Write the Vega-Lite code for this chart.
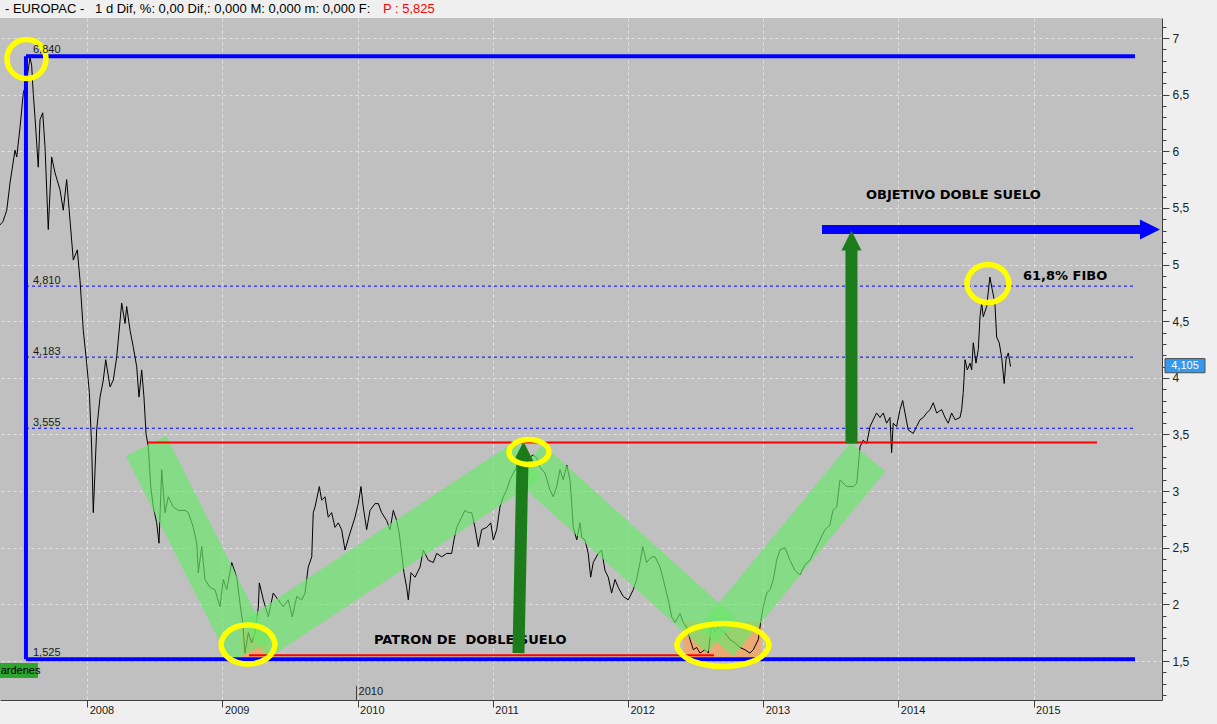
{
"$schema": "https://vega.github.io/schema/vega-lite/v6.json",
"width": 1162, "height": 682,
"autosize": {"type": "none"},
"padding": {"left": 0, "top": 18, "right": 55, "bottom": 24},
"background": "#efefef",
"config": {"view": {"fill": "#c0c0c0", "stroke": null}, "font": "Liberation Sans"},
"encoding": {
  "x": {"field": "t", "type": "quantitative", "title": null,
    "scale": {"domain": [2007.355, 2015.95], "nice": false, "zero": false},
    "axis": {"values": [2008, 2009, 2010, 2011, 2012, 2013, 2014, 2015], "format": "d", "labelAlign": "left", "labelBaseline": "middle", "labelPadding": 3, "labelOffset": 2, "tickSize": 7, "tickColor": "#404040", "domainColor": "#404040", "labelColor": "#202020", "labelFontSize": 11, "labelFlush": false, "labelOverlap": false, "grid": true, "gridColor": "#e2e2e2", "gridDash": [3, 3]}},
  "y": {"field": "p", "type": "quantitative", "title": null,
    "scale": {"domain": [1.156, 7.177], "nice": false, "zero": false},
    "axis": {"orient": "right", "values": [1.2,1.3,1.4,1.5,1.6,1.7,1.8,1.9,2.0,2.1,2.2,2.3,2.4,2.5,2.6,2.7,2.8,2.9,3.0,3.1,3.2,3.3,3.4,3.5,3.6,3.7,3.8,3.9,4.0,4.1,4.2,4.3,4.4,4.5,4.6,4.7,4.8,4.9,5.0,5.1,5.2,5.3,5.4,5.5,5.6,5.7,5.8,5.9,6.0,6.1,6.2,6.3,6.4,6.5,6.6,6.7,6.8,6.9,7.0,7.1],
      "labelExpr": "abs(datum.value*2-round(datum.value*2))<0.01 ? replace(format(datum.value,'~g'),'.',',') : ''",
      "tickSize": {"condition": {"test": "abs(datum.value*2-round(datum.value*2))<0.01", "value": 7}, "value": 4},
      "gridOpacity": {"condition": {"test": "abs(datum.value*2-round(datum.value*2))<0.01", "value": 1}, "value": 0},
      "gridColor": "#e2e2e2", "gridDash": [3, 3], "grid": true,
      "labelPadding": 3, "labelFontSize": 12, "labelColor": "#202020", "tickColor": "#404040", "domainColor": "#404040", "labelOverlap": false, "labelFlush": false}}
},
"layer": [
  {"data": {"values": [{"t": 2007.547, "p": 4.81, "t2": 2015.735}, {"t": 2007.547, "p": 4.183, "t2": 2015.735}, {"t": 2007.547, "p": 3.555, "t2": 2015.735}]},
   "mark": {"type": "rule", "color": "#0000ff", "strokeWidth": 1, "strokeDash": [3, 3]},
   "encoding": {"x2": {"field": "t2"}}},
  {"data": {"values": [{"t": 2009.145, "t2": 2009.337, "p": 1.535, "p2": 1.774}, {"t": 2012.407, "t2": 2012.984, "p": 1.535, "p2": 1.845}]},
   "mark": {"type": "rect", "color": "#f2a66c", "opacity": 0.9},
   "encoding": {"x2": {"field": "t2"}, "y2": {"field": "p2"}}},
  {"data": {"values": [
{"t":2007.355,"p":5.35},{"t":2007.377,"p":5.38},{"t":2007.405,"p":5.48},{"t":2007.429,"p":5.72},{"t":2007.466,"p":6.01},{"t":2007.479,"p":5.95},{"t":2007.503,"p":6.21},{"t":2007.527,"p":6.51},{"t":2007.553,"p":6.63},{"t":2007.577,"p":6.83},{"t":2007.589,"p":6.76},{"t":2007.601,"p":6.51},{"t":2007.614,"p":6.30},{"t":2007.638,"p":5.86},{"t":2007.651,"p":6.28},{"t":2007.671,"p":6.34},{"t":2007.688,"p":6.04},{"t":2007.712,"p":5.31},{"t":2007.737,"p":5.95},{"t":2007.762,"p":5.81},{"t":2007.799,"p":5.66},{"t":2007.823,"p":5.48},{"t":2007.848,"p":5.75},{"t":2007.873,"p":5.39},{"t":2007.897,"p":5.04},{"t":2007.927,"p":5.13},{"t":2007.947,"p":4.86},{"t":2007.971,"p":4.42},{"t":2007.996,"p":4.13},{"t":2008.016,"p":3.87},{"t":2008.033,"p":3.39},{"t":2008.045,"p":2.81},{"t":2008.070,"p":3.54},{"t":2008.095,"p":3.83},{"t":2008.119,"p":3.98},{"t":2008.137,"p":4.16},{"t":2008.169,"p":3.92},{"t":2008.193,"p":3.98},{"t":2008.218,"p":4.18},{"t":2008.255,"p":4.66},{"t":2008.280,"p":4.48},{"t":2008.292,"p":4.63},{"t":2008.317,"p":4.42},{"t":2008.341,"p":4.27},{"t":2008.366,"p":4.10},{"t":2008.383,"p":3.83},{"t":2008.403,"p":4.07},{"t":2008.420,"p":3.83},{"t":2008.435,"p":3.51},{"t":2008.452,"p":3.39},{"t":2008.470,"p":3.04},{"t":2008.489,"p":2.86},{"t":2008.514,"p":2.72},{"t":2008.531,"p":2.54},{"t":2008.551,"p":3.19},{"t":2008.575,"p":2.81},{"t":2008.600,"p":2.95},{"t":2008.637,"p":2.86},{"t":2008.674,"p":2.83},{"t":2008.723,"p":2.83},{"t":2008.748,"p":2.81},{"t":2008.785,"p":2.68},{"t":2008.810,"p":2.54},{"t":2008.822,"p":2.28},{"t":2008.847,"p":2.51},{"t":2008.871,"p":2.22},{"t":2008.908,"p":2.15},{"t":2008.945,"p":2.13},{"t":2008.982,"p":1.98},{"t":2009.007,"p":2.22},{"t":2009.032,"p":2.13},{"t":2009.069,"p":2.37},{"t":2009.106,"p":2.24},{"t":2009.130,"p":2.01},{"t":2009.150,"p":1.84},{"t":2009.167,"p":1.57},{"t":2009.192,"p":1.75},{"t":2009.217,"p":1.66},{"t":2009.241,"p":1.75},{"t":2009.266,"p":1.98},{"t":2009.273,"p":2.19},{"t":2009.303,"p":2.04},{"t":2009.340,"p":1.89},{"t":2009.376,"p":2.10},{"t":2009.413,"p":2.04},{"t":2009.450,"p":1.98},{"t":2009.487,"p":2.04},{"t":2009.517,"p":1.89},{"t":2009.550,"p":2.07},{"t":2009.587,"p":2.04},{"t":2009.611,"p":2.10},{"t":2009.635,"p":2.33},{"t":2009.661,"p":2.42},{"t":2009.672,"p":2.81},{"t":2009.685,"p":2.86},{"t":2009.717,"p":3.04},{"t":2009.734,"p":2.92},{"t":2009.759,"p":2.95},{"t":2009.783,"p":2.77},{"t":2009.808,"p":2.81},{"t":2009.833,"p":2.68},{"t":2009.857,"p":2.72},{"t":2009.882,"p":2.66},{"t":2009.907,"p":2.48},{"t":2009.944,"p":2.63},{"t":2009.981,"p":2.77},{"t":2010.005,"p":2.89},{"t":2010.025,"p":3.04},{"t":2010.042,"p":2.86},{"t":2010.067,"p":2.66},{"t":2010.092,"p":2.83},{"t":2010.129,"p":2.89},{"t":2010.153,"p":2.89},{"t":2010.178,"p":2.81},{"t":2010.215,"p":2.74},{"t":2010.240,"p":2.66},{"t":2010.264,"p":2.83},{"t":2010.289,"p":2.74},{"t":2010.308,"p":2.63},{"t":2010.326,"p":2.45},{"t":2010.343,"p":2.28},{"t":2010.363,"p":2.15},{"t":2010.375,"p":2.04},{"t":2010.395,"p":2.28},{"t":2010.425,"p":2.24},{"t":2010.462,"p":2.33},{"t":2010.486,"p":2.48},{"t":2010.523,"p":2.39},{"t":2010.560,"p":2.37},{"t":2010.585,"p":2.45},{"t":2010.622,"p":2.42},{"t":2010.659,"p":2.45},{"t":2010.696,"p":2.45},{"t":2010.713,"p":2.57},{"t":2010.733,"p":2.68},{"t":2010.770,"p":2.77},{"t":2010.794,"p":2.83},{"t":2010.819,"p":2.81},{"t":2010.844,"p":2.81},{"t":2010.868,"p":2.68},{"t":2010.893,"p":2.51},{"t":2010.918,"p":2.66},{"t":2010.955,"p":2.68},{"t":2010.985,"p":2.72},{"t":2011.004,"p":2.57},{"t":2011.029,"p":2.66},{"t":2011.053,"p":2.86},{"t":2011.078,"p":2.95},{"t":2011.103,"p":3.01},{"t":2011.127,"p":3.10},{"t":2011.152,"p":3.16},{"t":2011.177,"p":3.21},{"t":2011.201,"p":3.34},{"t":2011.226,"p":3.41},{"t":2011.251,"p":3.35},{"t":2011.275,"p":3.30},{"t":2011.300,"p":3.32},{"t":2011.325,"p":3.29},{"t":2011.349,"p":3.21},{"t":2011.386,"p":3.16},{"t":2011.423,"p":3.01},{"t":2011.447,"p":2.95},{"t":2011.473,"p":3.04},{"t":2011.497,"p":3.19},{"t":2011.521,"p":3.10},{"t":2011.547,"p":3.23},{"t":2011.571,"p":3.10},{"t":2011.584,"p":2.89},{"t":2011.595,"p":2.68},{"t":2011.621,"p":2.57},{"t":2011.645,"p":2.72},{"t":2011.658,"p":2.59},{"t":2011.682,"p":2.57},{"t":2011.706,"p":2.45},{"t":2011.724,"p":2.24},{"t":2011.743,"p":2.37},{"t":2011.780,"p":2.45},{"t":2011.805,"p":2.48},{"t":2011.830,"p":2.30},{"t":2011.854,"p":2.24},{"t":2011.879,"p":2.10},{"t":2011.904,"p":2.22},{"t":2011.928,"p":2.15},{"t":2011.965,"p":2.07},{"t":2012.002,"p":2.04},{"t":2012.039,"p":2.13},{"t":2012.064,"p":2.22},{"t":2012.089,"p":2.37},{"t":2012.109,"p":2.51},{"t":2012.138,"p":2.37},{"t":2012.175,"p":2.42},{"t":2012.200,"p":2.42},{"t":2012.237,"p":2.33},{"t":2012.261,"p":2.22},{"t":2012.298,"p":2.04},{"t":2012.323,"p":1.89},{"t":2012.348,"p":1.84},{"t":2012.385,"p":1.92},{"t":2012.409,"p":1.84},{"t":2012.434,"p":1.80},{"t":2012.459,"p":1.69},{"t":2012.483,"p":1.60},{"t":2012.508,"p":1.62},{"t":2012.533,"p":1.57},{"t":2012.570,"p":1.60},{"t":2012.594,"p":1.57},{"t":2012.619,"p":1.84},{"t":2012.643,"p":1.75},{"t":2012.668,"p":1.80},{"t":2012.693,"p":1.77},{"t":2012.717,"p":1.75},{"t":2012.754,"p":1.69},{"t":2012.791,"p":1.66},{"t":2012.828,"p":1.62},{"t":2012.865,"p":1.60},{"t":2012.902,"p":1.57},{"t":2012.927,"p":1.60},{"t":2012.964,"p":1.69},{"t":2012.981,"p":1.84},{"t":2013.001,"p":1.98},{"t":2013.026,"p":2.10},{"t":2013.050,"p":2.13},{"t":2013.075,"p":2.22},{"t":2013.100,"p":2.39},{"t":2013.124,"p":2.48},{"t":2013.161,"p":2.50},{"t":2013.198,"p":2.39},{"t":2013.235,"p":2.30},{"t":2013.272,"p":2.26},{"t":2013.309,"p":2.35},{"t":2013.346,"p":2.39},{"t":2013.383,"p":2.48},{"t":2013.420,"p":2.57},{"t":2013.457,"p":2.66},{"t":2013.494,"p":2.70},{"t":2013.516,"p":2.83},{"t":2013.544,"p":2.86},{"t":2013.568,"p":3.10},{"t":2013.618,"p":3.04},{"t":2013.666,"p":3.04},{"t":2013.692,"p":3.07},{"t":2013.703,"p":3.21},{"t":2013.716,"p":3.39},{"t":2013.740,"p":3.45},{"t":2013.766,"p":3.42},{"t":2013.790,"p":3.57},{"t":2013.814,"p":3.63},{"t":2013.839,"p":3.69},{"t":2013.864,"p":3.65},{"t":2013.888,"p":3.69},{"t":2013.913,"p":3.60},{"t":2013.938,"p":3.65},{"t":2013.950,"p":3.34},{"t":2013.962,"p":3.60},{"t":2013.987,"p":3.57},{"t":2014.012,"p":3.72},{"t":2014.032,"p":3.80},{"t":2014.049,"p":3.69},{"t":2014.073,"p":3.54},{"t":2014.110,"p":3.51},{"t":2014.135,"p":3.57},{"t":2014.160,"p":3.63},{"t":2014.184,"p":3.65},{"t":2014.209,"p":3.69},{"t":2014.234,"p":3.72},{"t":2014.258,"p":3.78},{"t":2014.283,"p":3.69},{"t":2014.320,"p":3.72},{"t":2014.345,"p":3.65},{"t":2014.369,"p":3.60},{"t":2014.394,"p":3.69},{"t":2014.419,"p":3.63},{"t":2014.456,"p":3.65},{"t":2014.468,"p":3.72},{"t":2014.480,"p":3.87},{"t":2014.493,"p":4.16},{"t":2014.510,"p":4.07},{"t":2014.530,"p":4.13},{"t":2014.542,"p":4.07},{"t":2014.554,"p":4.31},{"t":2014.574,"p":4.13},{"t":2014.591,"p":4.25},{"t":2014.604,"p":4.54},{"t":2014.616,"p":4.66},{"t":2014.628,"p":4.54},{"t":2014.653,"p":4.63},{"t":2014.677,"p":4.89},{"t":2014.694,"p":4.78},{"t":2014.714,"p":4.66},{"t":2014.727,"p":4.36},{"t":2014.746,"p":4.31},{"t":2014.764,"p":4.18},{"t":2014.783,"p":3.95},{"t":2014.796,"p":4.16},{"t":2014.813,"p":4.22},{"t":2014.830,"p":4.10}
  ]},
   "mark": {"type": "line", "color": "#000000", "strokeWidth": 1}},
  {"data": {"values": [{"g": "A", "t": 2008.435, "p": 3.40}, {"g": "A", "t": 2009.204, "p": 1.58}, {"g": "B", "t": 2009.241, "p": 1.685}, {"g": "B", "t": 2011.260, "p": 3.275}, {"g": "C", "t": 2011.260, "p": 3.265}, {"g": "C", "t": 2012.695, "p": 1.721}, {"g": "D", "t": 2012.651, "p": 1.668}, {"g": "D", "t": 2013.775, "p": 3.301}]},
   "mark": {"type": "line", "color": "#6ae86a", "strokeWidth": 45, "strokeCap": "butt", "opacity": 0.68},
   "encoding": {"detail": {"field": "g"}}},
  {"data": {"values": [{"t": 2008.450, "t2": 2015.469, "p": 3.43}, {"t": 2009.197, "t2": 2012.636, "p": 1.55}]},
   "mark": {"type": "rule", "color": "#ff0000", "strokeWidth": 2},
   "encoding": {"x2": {"field": "t2"}}},
  {"data": {"values": [{"t": 2007.547, "t2": 2015.750, "p": 6.84}, {"t": 2007.547, "t2": 2015.750, "p": 1.515}]},
   "mark": {"type": "rule", "color": "#0000ff", "strokeWidth": 4},
   "encoding": {"x2": {"field": "t2"}}},
  {"data": {"values": [{"t": 2007.547, "p": 1.515, "p2": 6.84}]},
   "mark": {"type": "rule", "color": "#0000ff", "strokeWidth": 4},
   "encoding": {"y2": {"field": "p2"}}},
  {"data": {"values": [{"t": 2013.435, "t2": 2015.801, "p": 5.31}]},
   "mark": {"type": "rule", "color": "#0000ff", "strokeWidth": 9},
   "encoding": {"x2": {"field": "t2"}}},
  {"data": {"values": [{"t": 2015.861, "p": 5.31}]},
   "mark": {"type": "point", "shape": "M-1,-1L1,0L-1,1Z", "size": 400, "filled": true, "color": "#0000ff", "opacity": 1, "strokeWidth": 0}},
  {"data": {"values": [{"t": 2010.121, "p": 1.69, "label": "PATRON DE\u00a0 DOBLE SUELO"}]},
   "mark": {"type": "text", "align": "left", "baseline": "middle", "font": "DejaVu Sans", "fontWeight": "bold", "fontSize": 13, "color": "#000000"},
   "encoding": {"text": {"field": "label"}}},
  {"data": {"values": [{"t": 2011.190, "p": 1.57, "t2": 2011.220, "p2": 3.29}, {"t": 2013.653, "p": 3.42, "t2": 2013.653, "p2": 5.13}]},
   "mark": {"type": "rule", "color": "#1c7c1c", "strokeWidth": 12},
   "encoding": {"x2": {"field": "t2"}, "y2": {"field": "p2"}}},
  {"data": {"values": [{"t": 2011.227, "p": 3.35}, {"t": 2013.653, "p": 5.212}]},
   "mark": {"type": "point", "shape": "M0,-1L1,1L-1,1Z", "size": 400, "filled": true, "color": "#1c7c1c", "opacity": 1, "strokeWidth": 0}},
  {"data": {"values": [
{"g":"E1","i":0,"t":2007.695,"p":6.815},{"g":"E1","i":1,"t":2007.653,"p":6.937},{"g":"E1","i":2,"t":2007.551,"p":6.987},{"g":"E1","i":3,"t":2007.449,"p":6.937},{"g":"E1","i":4,"t":2007.407,"p":6.815},{"g":"E1","i":5,"t":2007.449,"p":6.693},{"g":"E1","i":6,"t":2007.551,"p":6.643},{"g":"E1","i":7,"t":2007.653,"p":6.693},
{"g":"E2","i":0,"t":2009.389,"p":1.646},{"g":"E2","i":1,"t":2009.331,"p":1.768},{"g":"E2","i":2,"t":2009.189,"p":1.818},{"g":"E2","i":3,"t":2009.048,"p":1.768},{"g":"E2","i":4,"t":2008.990,"p":1.646},{"g":"E2","i":5,"t":2009.048,"p":1.524},{"g":"E2","i":6,"t":2009.189,"p":1.473},{"g":"E2","i":7,"t":2009.331,"p":1.524},
{"g":"E3","i":0,"t":2011.416,"p":3.345},{"g":"E3","i":1,"t":2011.372,"p":3.423},{"g":"E3","i":2,"t":2011.268,"p":3.456},{"g":"E3","i":3,"t":2011.163,"p":3.423},{"g":"E3","i":4,"t":2011.120,"p":3.345},{"g":"E3","i":5,"t":2011.163,"p":3.268},{"g":"E3","i":6,"t":2011.268,"p":3.235},{"g":"E3","i":7,"t":2011.372,"p":3.268},
{"g":"E4","i":0,"t":2013.043,"p":1.641},{"g":"E4","i":1,"t":2012.943,"p":1.776},{"g":"E4","i":2,"t":2012.703,"p":1.831},{"g":"E4","i":3,"t":2012.462,"p":1.776},{"g":"E4","i":4,"t":2012.362,"p":1.641},{"g":"E4","i":5,"t":2012.462,"p":1.507},{"g":"E4","i":6,"t":2012.703,"p":1.451},{"g":"E4","i":7,"t":2012.943,"p":1.507},
{"g":"E5","i":0,"t":2014.818,"p":4.833},{"g":"E5","i":1,"t":2014.772,"p":4.951},{"g":"E5","i":2,"t":2014.663,"p":5.001},{"g":"E5","i":3,"t":2014.553,"p":4.951},{"g":"E5","i":4,"t":2014.507,"p":4.833},{"g":"E5","i":5,"t":2014.553,"p":4.715},{"g":"E5","i":6,"t":2014.663,"p":4.665},{"g":"E5","i":7,"t":2014.772,"p":4.715}
  ]},
   "mark": {"type": "line", "interpolate": "cardinal-closed", "color": "#ffff00", "strokeWidth": 5.5},
   "encoding": {"detail": {"field": "g"}, "order": {"field": "i", "type": "quantitative"}}},
  {"data": {"values": [{"t": 2013.760, "p": 5.61, "label": "OBJETIVO DOBLE SUELO"}, {"t": 2014.921, "p": 4.90, "label": "61,8% FIBO"}]},
   "mark": {"type": "text", "align": "left", "baseline": "middle", "font": "DejaVu Sans", "fontWeight": "bold", "fontSize": 13, "color": "#000000"},
   "encoding": {"text": {"field": "label"}}},
  {"data": {"values": [{"t": 2007.599, "p": 6.894, "label": "6,840"}, {"t": 2007.599, "p": 4.855, "label": "4,810"}, {"t": 2007.599, "p": 4.228, "label": "4,183"}, {"t": 2007.599, "p": 3.601, "label": "3,555"}, {"t": 2007.599, "p": 1.571, "label": "1,525"}]},
   "mark": {"type": "text", "align": "left", "baseline": "middle", "fontSize": 11, "color": "#1a1a1a"},
   "encoding": {"text": {"field": "label"}}},
  {"data": {"values": [{"t": 2007.355, "t2": 2007.636, "p": 1.35, "p2": 1.482}]},
   "mark": {"type": "rect", "color": "#2ea52e", "clip": false},
   "encoding": {"x2": {"field": "t2"}, "y2": {"field": "p2"}}},
  {"data": {"values": [{"t": 2007.360, "p": 1.416, "label": "ardenes"}]},
   "mark": {"type": "text", "align": "left", "baseline": "middle", "fontSize": 11, "color": "#000000"},
   "encoding": {"text": {"field": "label"}}},
  {"data": {"values": [{"t": 2009.992, "p": 1.156, "p2": 1.28}]},
   "mark": {"type": "rule", "color": "#404040", "strokeWidth": 1},
   "encoding": {"y2": {"field": "p2"}}},
  {"data": {"values": [{"t": 2010.007, "p": 1.226, "label": "2010"}]},
   "mark": {"type": "text", "align": "left", "baseline": "middle", "fontSize": 11, "color": "#202020"},
   "encoding": {"text": {"field": "label"}}},
  {"data": {"values": [{"t": 2015.972, "t2": 2016.268, "p": 4.045, "p2": 4.17}]},
   "mark": {"type": "rect", "color": "#3399ee", "stroke": "#505050", "strokeWidth": 1, "clip": false},
   "encoding": {"x2": {"field": "t2"}, "y2": {"field": "p2"}}},
  {"data": {"values": [{"t": 2016.120, "p": 4.107, "label": "4,105"}]},
   "mark": {"type": "text", "align": "center", "baseline": "middle", "fontSize": 11, "color": "#ffffff", "clip": false},
   "encoding": {"text": {"field": "label"}}},
  {"data": {"values": [{"t": 2007.392, "p": 7.256, "label": "- EUROPAC -\u00a0\u00a0 1 d Dif, %: 0,00 Dif,: 0,000 M: 0,000 m: 0,000 F:"}]},
   "mark": {"type": "text", "align": "left", "baseline": "middle", "fontSize": 13, "color": "#000000", "clip": false},
   "encoding": {"text": {"field": "label"}}},
  {"data": {"values": [{"t": 2010.188, "p": 7.256, "label": "P : 5,825"}]},
   "mark": {"type": "text", "align": "left", "baseline": "middle", "fontSize": 13, "color": "#ff0000", "clip": false},
   "encoding": {"text": {"field": "label"}}}
]
}
